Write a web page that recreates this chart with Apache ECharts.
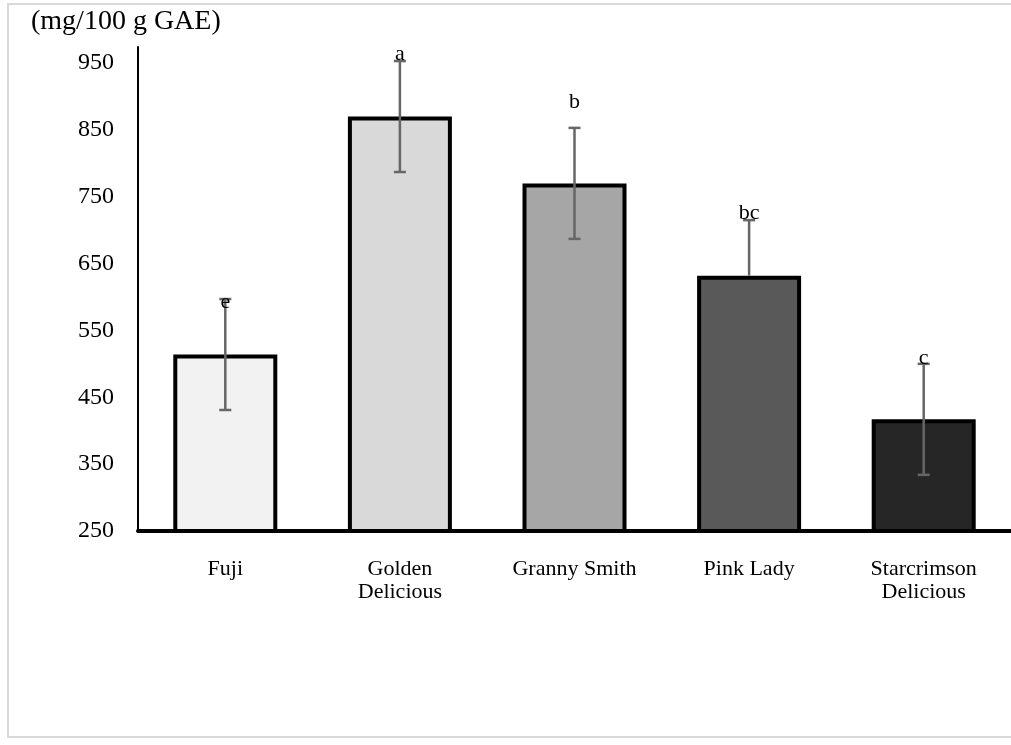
<!DOCTYPE html>
<html>
<head>
<meta charset="utf-8">
<script src="https://cdn.jsdelivr.net/npm/echarts@6/dist/echarts.min.js"></script>
<style>
html, body { margin: 0; padding: 0; background: #fff; }
#main { width: 1011px; height: 745px; }
</style>
</head>
<body>
<div id="main"></div>
<script>
// 数据
var categories = ['Fuji', 'Golden\nDelicious', 'Granny Smith', 'Pink Lady', 'Starcrimson\nDelicious'];
var values = [514, 870, 770, 632, 417];
var errorsUp = [83, 83, 83, 83, 83];
var errorsDown = [83, 83, 83, 0, 83]; // Pink Lady 下半段看不到
var letters = ['e', 'a', 'b', 'bc', 'c'];
var letterY = [592, 963, 892, 726, 508];
var barColors = ['#f2f2f2', '#d9d9d9', '#a6a6a6', '#595959', '#262626'];
var yTicks = [250, 350, 450, 550, 650, 750, 850, 950];

var font = 'Liberation Serif';

var myChart = echarts.init(document.getElementById('main'));

myChart.setOption({
    animation: false,
    textStyle: { fontFamily: font },
    title: {
        text: '(mg/100 g GAE)',
        left: 26,
        top: 3,
        textStyle: { fontFamily: font, fontSize: 28, fontWeight: 'normal', color: '#000' }
    },
    graphic: [{
        type: 'rect',
        shape: { x: 8, y: 4, width: 1020, height: 733 },
        style: { fill: 'none', stroke: '#d9d9d9', lineWidth: 2 },
        z: -10
    }],
    grid: { left: 138, top: 47, width: 879, height: 484 },
    xAxis: {
        type: 'category',
        data: categories,
        axisTick: { show: false },
        axisLine: { lineStyle: { color: '#000', width: 4 } },
        axisLabel: { color: '#000', fontFamily: font, fontSize: 22, lineHeight: 23, margin: 27 }
    },
    yAxis: {
        type: 'value',
        min: 250,
        max: 974,
        interval: 100,
        splitLine: { show: false },
        axisTick: { show: false },
        axisLine: { show: true, lineStyle: { color: '#000', width: 2 } },
        axisLabel: {
            color: '#000', fontFamily: font, fontSize: 24, margin: 24,
            formatter: function (v) { return yTicks.indexOf(v) >= 0 ? v : ''; }
        }
    },
    series: [{
        type: 'bar',
        barWidth: 104,
        data: values.map(function (v, i) {
            return { value: v, itemStyle: { color: barColors[i] } };
        }),
        itemStyle: { borderColor: '#000', borderWidth: 4 }
    }, {
        // 误差线
        type: 'custom',
        z: 5,
        data: values.map(function (v, i) { return [i, v - errorsDown[i], v + errorsUp[i]]; }),
        renderItem: function (params, api) {
            var i = params.dataIndex;
            var lo = api.coord([api.value(0), api.value(1)]);
            var hi = api.coord([api.value(0), api.value(2)]);
            var w = 6;
            var st = { stroke: '#666', lineWidth: 2.5 };
            var kids = [
                { type: 'line', shape: { x1: hi[0], y1: hi[1], x2: lo[0], y2: lo[1] }, style: st },
                { type: 'line', shape: { x1: hi[0] - w, y1: hi[1], x2: hi[0] + w, y2: hi[1] }, style: st }
            ];
            if (errorsDown[i] > 0) {
                kids.push({ type: 'line', shape: { x1: lo[0] - w, y1: lo[1], x2: lo[0] + w, y2: lo[1] }, style: st });
            }
            return { type: 'group', children: kids };
        }
    }, {
        // 显著性字母
        type: 'custom',
        z: 6,
        data: letterY.map(function (v, i) { return [i, v]; }),
        renderItem: function (params, api) {
            var p = api.coord([api.value(0), api.value(1)]);
            return {
                type: 'text',
                x: p[0], y: p[1],
                style: {
                    text: letters[params.dataIndex],
                    fill: '#000',
                    font: '22px "' + font + '"',
                    align: 'center',
                    verticalAlign: 'middle'
                }
            };
        }
    }]
});
</script>
</body>
</html>
